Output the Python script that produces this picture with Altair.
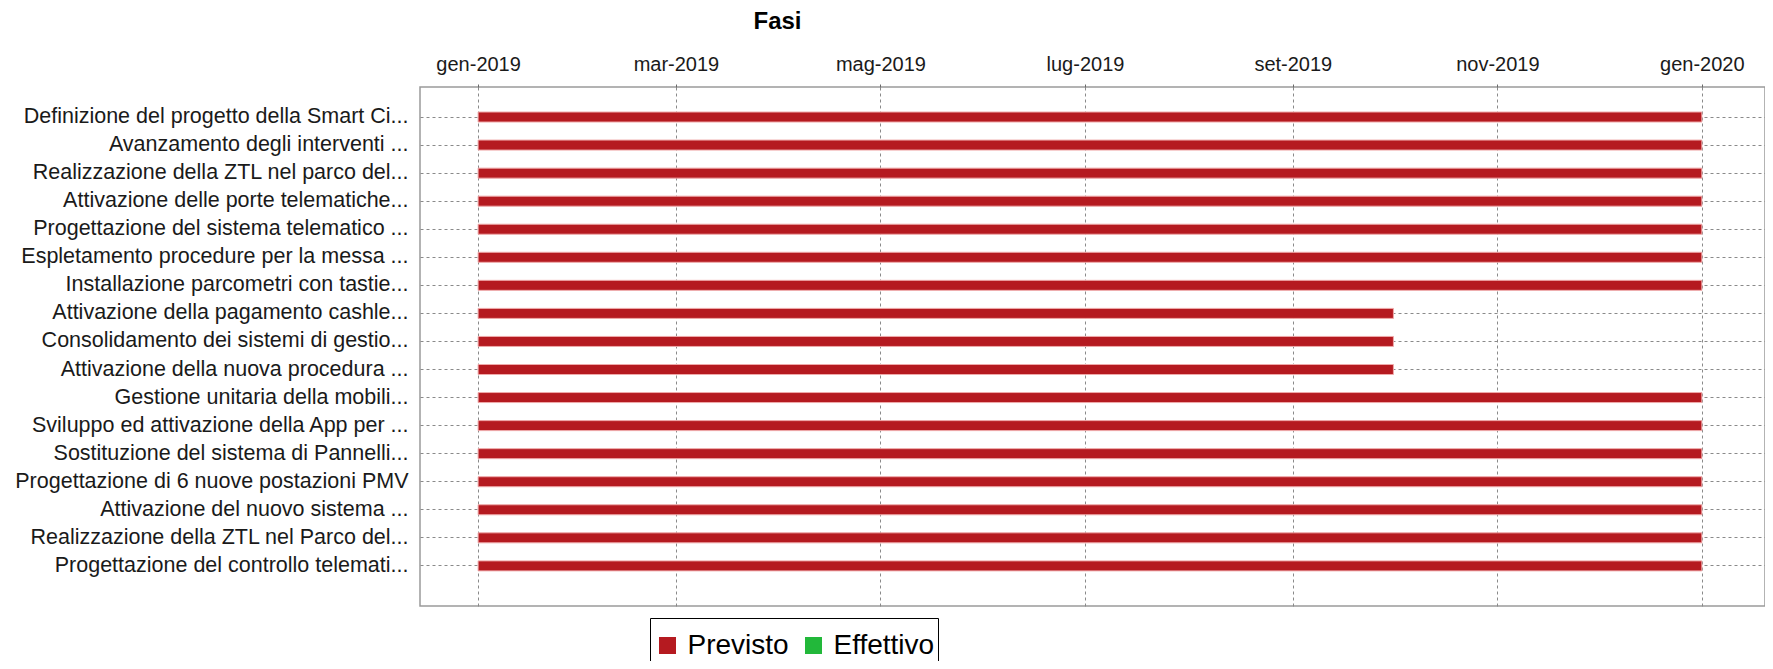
import altair as alt
import pandas as pd

# ---- data ----
tasks = [
    "Definizione del progetto della Smart Ci...",
    "Avanzamento degli interventi ...",
    "Realizzazione della ZTL nel parco del...",
    "Attivazione delle porte telematiche...",
    "Progettazione del sistema telematico ...",
    "Espletamento procedure per la messa ...",
    "Installazione parcometri con tastie...",
    "Attivazione della pagamento cashle...",
    "Consolidamento dei sistemi di gestio...",
    "Attivazione della nuova procedura ...",
    "Gestione unitaria della mobili...",
    "Sviluppo ed attivazione della App per ...",
    "Sostituzione del sistema di Pannelli...",
    "Progettazione di 6 nuove postazioni PMV",
    "Attivazione del nuovo sistema ...",
    "Realizzazione della ZTL nel Parco del...",
    "Progettazione del controllo telemati...",
]
start_dates = [
    "2019-01-01", "2019-01-01", "2019-01-01", "2019-01-01", "2019-01-01",
    "2019-01-01", "2019-01-01", "2019-01-01", "2019-01-01", "2019-01-01",
    "2019-01-01", "2019-01-01", "2019-01-01", "2019-01-01", "2019-01-01",
    "2019-01-01", "2019-01-01",
]
end_dates = [
    "2020-01-01", "2020-01-01", "2020-01-01", "2020-01-01", "2020-01-01",
    "2020-01-01", "2020-01-01", "2019-10-01", "2019-10-01", "2019-10-01",
    "2020-01-01", "2020-01-01", "2020-01-01", "2020-01-01", "2020-01-01",
    "2020-01-01", "2020-01-01",
]
kinds = [
    "Previsto", "Previsto", "Previsto", "Previsto", "Previsto",
    "Previsto", "Previsto", "Previsto", "Previsto", "Previsto",
    "Previsto", "Previsto", "Previsto", "Previsto", "Previsto",
    "Previsto", "Previsto",
]
series_names = ["Previsto", "Effettivo"]
series_colors = ["#B51A20", "#22B83A"]

month_labels = ["gen", "feb", "mar", "apr", "mag", "giu",
                "lug", "ago", "set", "ott", "nov", "dic"]
tick_months = [(2019, 1), (2019, 3), (2019, 5), (2019, 7),
               (2019, 9), (2019, 11), (2020, 1)]
domain_start = (2018, 12, 14, 16)
domain_end = (2020, 1, 19, 20)

df = pd.DataFrame({"task": tasks, "start": start_dates,
                   "end": end_dates, "kind": kinds})

tick_values = [alt.DateTime(year=y, month=m, date=1, utc=True) for y, m in tick_months]
x_domain = [
    alt.DateTime(year=domain_start[0], month=domain_start[1], date=domain_start[2],
                 hours=domain_start[3], utc=True),
    alt.DateTime(year=domain_end[0], month=domain_end[1], date=domain_end[2],
                 hours=domain_end[3], utc=True),
]
month_js = "[" + ",".join("'%s'" % m for m in month_labels) + "]"
label_expr = month_js + "[utcmonth(datum.value)] + '-' + utcyear(datum.value)"

FONT = "Liberation Sans"

chart = alt.Chart(df).mark_bar(size=10, stroke="#EFA9A9", strokeWidth=1).encode(
    x=alt.X(
        "start:T",
        scale=alt.Scale(type="utc", domain=x_domain),
        axis=alt.Axis(
            orient="top", values=tick_values, labelExpr=label_expr,
            title=None, grid=True, gridDash=[3, 3], gridColor="#8a8a8a",
            gridWidth=1, tickSize=5, tickColor="#6a6a6a", tickDash=[3, 2],
            domain=False, labelFontSize=20, labelFont=FONT,
            labelColor="#1a1a1a", labelPadding=8, labelOverlap=False,
        ),
    ),
    x2="end:T",
    y=alt.Y(
        "task:N",
        sort=tasks,
        scale=alt.Scale(paddingInner=0, paddingOuter=0.75, align=0.38),
        axis=alt.Axis(
            title=None, grid=True, gridDash=[3, 3], gridColor="#8a8a8a",
            gridWidth=1, bandPosition=0.5, ticks=False, domain=False,
            labelFontSize=21.5, labelFont=FONT, labelColor="#1a1a1a",
            labelPadding=12, labelLimit=700,
        ),
    ),
    color=alt.Color(
        "kind:N",
        scale=alt.Scale(domain=series_names, range=series_colors),
        legend=alt.Legend(
            title=" ", titleFontSize=10, titlePadding=0, titleOrient="top",
            orient="none", legendX=230, legendY=531,
            direction="horizontal", strokeColor="black", fillColor="white",
            padding=3.5, symbolType="square", symbolSize=289,
            symbolStrokeWidth=0, labelFontSize=28, labelFont=FONT,
            labelColor="black", labelOffset=6, columnPadding=10,
        ),
    ),
).properties(
    width=1345,
    height=519,
    title=alt.TitleParams(
        "Fasi", anchor="middle", dx=-315, fontSize=24,
        font=FONT, fontWeight="bold", color="black", offset=20,
    ),
    autosize=alt.AutoSizeParams(type="none"),
    padding={"left": 412, "top": 79, "right": 0, "bottom": 55},
).configure_view(
    stroke="#9a9a9a", strokeWidth=1.5
)

chart.save("out.html", embed_options={"renderer": "svg", "actions": False})
